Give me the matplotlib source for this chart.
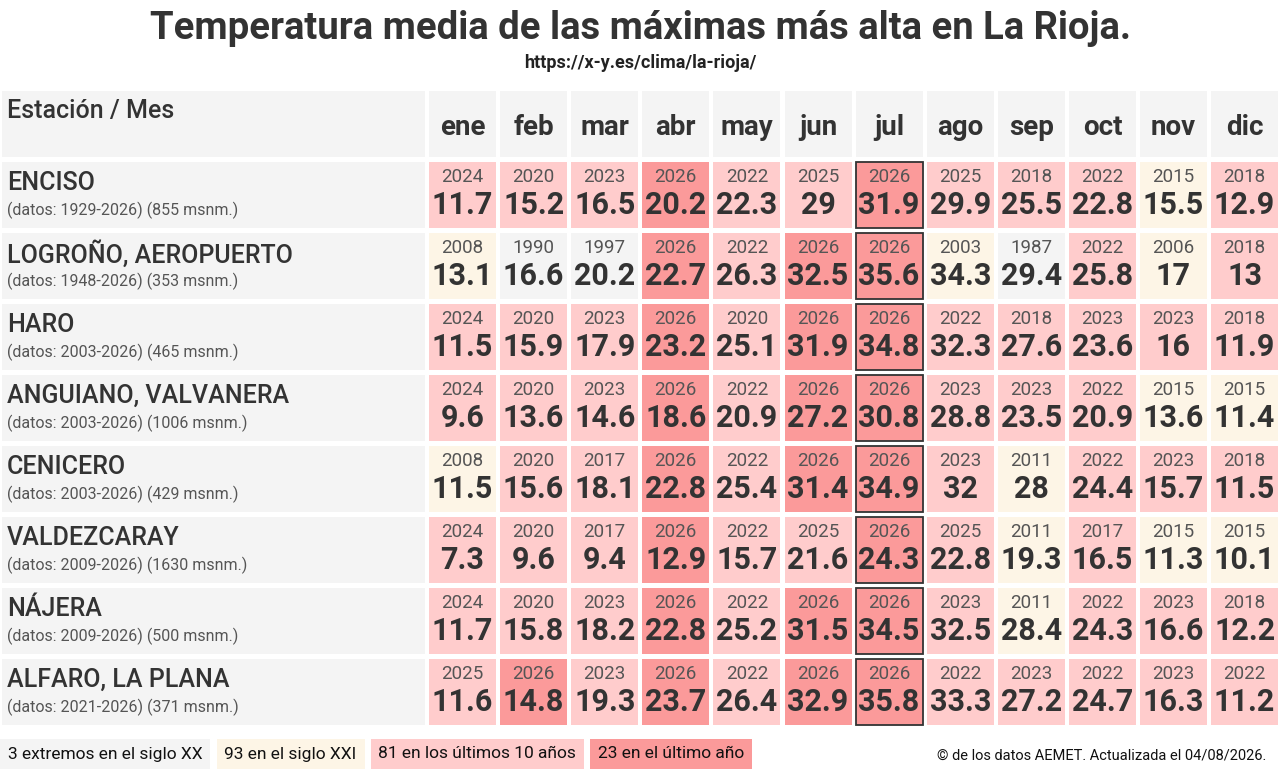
import matplotlib
matplotlib.use("Agg")
import matplotlib.pyplot as plt
from matplotlib.patches import Rectangle

plt.rcParams['font.family'] = ['Roboto', 'DejaVu Sans']

# data
meses = ['ene', 'feb', 'mar', 'abr', 'may', 'jun', 'jul', 'ago', 'sep', 'oct', 'nov', 'dic']
estaciones = ['ENCISO', 'LOGROÑO, AEROPUERTO', 'HARO', 'ANGUIANO, VALVANERA',
              'CENICERO', 'VALDEZCARAY', 'NÁJERA', 'ALFARO, LA PLANA']
info = ['(datos: 1929-2026) (855 msnm.)', '(datos: 1948-2026) (353 msnm.)',
        '(datos: 2003-2026) (465 msnm.)', '(datos: 2003-2026) (1006 msnm.)',
        '(datos: 2003-2026) (429 msnm.)', '(datos: 2009-2026) (1630 msnm.)',
        '(datos: 2009-2026) (500 msnm.)', '(datos: 2021-2026) (371 msnm.)']

anios = [
    [2024, 2020, 2023, 2026, 2022, 2025, 2026, 2025, 2018, 2022, 2015, 2018],
    [2008, 1990, 1997, 2026, 2022, 2026, 2026, 2003, 1987, 2022, 2006, 2018],
    [2024, 2020, 2023, 2026, 2020, 2026, 2026, 2022, 2018, 2023, 2023, 2018],
    [2024, 2020, 2023, 2026, 2022, 2026, 2026, 2023, 2023, 2022, 2015, 2015],
    [2008, 2020, 2017, 2026, 2022, 2026, 2026, 2023, 2011, 2022, 2023, 2018],
    [2024, 2020, 2017, 2026, 2022, 2025, 2026, 2025, 2011, 2017, 2015, 2015],
    [2024, 2020, 2023, 2026, 2022, 2026, 2026, 2023, 2011, 2022, 2023, 2018],
    [2025, 2026, 2023, 2026, 2022, 2026, 2026, 2022, 2023, 2022, 2023, 2022],
]
valores = [
    ['11.7', '15.2', '16.5', '20.2', '22.3', '29', '31.9', '29.9', '25.5', '22.8', '15.5', '12.9'],
    ['13.1', '16.6', '20.2', '22.7', '26.3', '32.5', '35.6', '34.3', '29.4', '25.8', '17', '13'],
    ['11.5', '15.9', '17.9', '23.2', '25.1', '31.9', '34.8', '32.3', '27.6', '23.6', '16', '11.9'],
    ['9.6', '13.6', '14.6', '18.6', '20.9', '27.2', '30.8', '28.8', '23.5', '20.9', '13.6', '11.4'],
    ['11.5', '15.6', '18.1', '22.8', '25.4', '31.4', '34.9', '32', '28', '24.4', '15.7', '11.5'],
    ['7.3', '9.6', '9.4', '12.9', '15.7', '21.6', '24.3', '22.8', '19.3', '16.5', '11.3', '10.1'],
    ['11.7', '15.8', '18.2', '22.8', '25.2', '31.5', '34.5', '32.5', '28.4', '24.3', '16.6', '12.2'],
    ['11.6', '14.8', '19.3', '23.7', '26.4', '32.9', '35.8', '33.3', '27.2', '24.7', '16.3', '11.2'],
]
mes_actual = 6  # jul

GRIS = '#f4f4f4'
CREMA = '#fdf5e6'
ROSA = '#ffcccc'
ROJO = '#fb9a9a'
TXT = '#333333'


def color_anio(a):
    if a == 2026:
        return ROJO
    if a >= 2017:
        return ROSA
    if a >= 2001:
        return CREMA
    return GRIS


fig = plt.figure(figsize=(12.8, 7.78), dpi=100)
ax = fig.add_axes([0, 0, 1, 1])
ax.set_xlim(0, 1280)
ax.set_ylim(778, 0)
ax.axis('off')

# layout
x0, w0 = 2, 423
cx0, cpitch, cw = 429, 71.1, 67
hy, hh = 91, 66
ry0, rpitch, rh = 162, 71, 66

ax.text(640, 28, 'Temperatura media de las máximas más alta en La Rioja.',
        ha='center', va='center', fontsize=27.5, fontweight='bold', color=TXT)
ax.text(640, 63, 'https://x-y.es/clima/la-rioja/',
        ha='center', va='center', fontsize=13, fontweight='bold', color='#222222')

# header
ax.add_patch(Rectangle((x0, hy), w0, hh, facecolor=GRIS, edgecolor='none'))
ax.text(x0 + 5, hy + 20, 'Estación / Mes', ha='left', va='center', fontsize=18,
        fontweight='medium', color=TXT)
for j, m in enumerate(meses):
    x = cx0 + j * cpitch
    ax.add_patch(Rectangle((x, hy), cw, hh, facecolor=GRIS, edgecolor='none'))
    ax.text(x + cw / 2, hy + 36, m, ha='center', va='center', fontsize=20,
            fontweight='bold', color=TXT)

# rows
for i, est in enumerate(estaciones):
    y = ry0 + i * rpitch
    ax.add_patch(Rectangle((x0, y), w0, rh, facecolor=GRIS, edgecolor='none'))
    ax.text(x0 + 5, y + 21, est, ha='left', va='center', fontsize=18,
            fontweight='medium', color=TXT)
    ax.text(x0 + 5, y + 48, info[i], ha='left', va='center', fontsize=11.5,
            color='#555555')
    for j in range(len(meses)):
        x = cx0 + j * cpitch
        ec = TXT if j == mes_actual else 'none'
        ax.add_patch(Rectangle((x, y), cw, rh, facecolor=color_anio(anios[i][j]),
                               edgecolor=ec, linewidth=1.3))
        ax.text(x + cw / 2, y + 15, str(anios[i][j]), ha='center', va='center',
                fontsize=13.5, color='#555555')
        ax.text(x + cw / 2, y + 43, valores[i][j], ha='center', va='center',
                fontsize=22, fontweight='bold', color=TXT)

# legend
todos = [a for fila in anios for a in fila]
n_xx = sum(a <= 2000 for a in todos)
n_xxi = sum(a > 2000 for a in todos)
n_10 = sum(a >= 2017 for a in todos)
n_ult = sum(a == 2026 for a in todos)
leyenda = [(f'{n_xx} extremos en el siglo XX', GRIS),
           (f'{n_xxi} en el siglo XXI', CREMA),
           (f'{n_10} en los últimos 10 años', ROSA),
           (f'{n_ult} en el último año', ROJO)]
lx = 2
for txt, col in leyenda:
    t = ax.text(lx + 6, 754, txt, ha='left', va='center', fontsize=12.5, color='#111111',
                bbox=dict(boxstyle='square,pad=0.45', facecolor=col, edgecolor='none'))
    fig.canvas.draw()
    bb = t.get_bbox_patch().get_window_extent(renderer=fig.canvas.get_renderer())
    lx = bb.x1 + 8

ax.text(1266, 756, '© de los datos AEMET. Actualizada el 04/08/2026.', ha='right',
        va='center', fontsize=10.5, color='#111111')

fig.savefig('out.png', dpi=100)
